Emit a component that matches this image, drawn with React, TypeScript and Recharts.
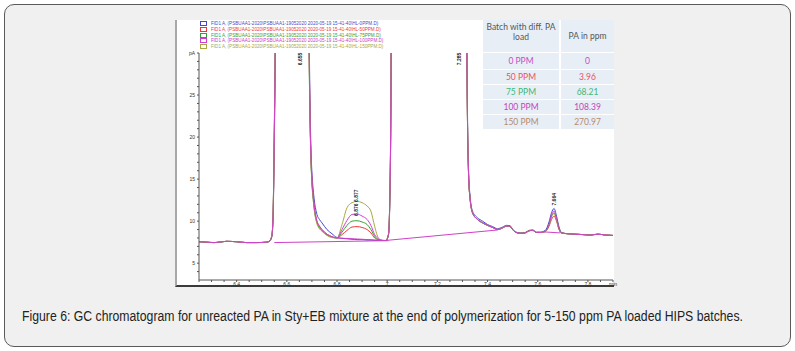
import React from "react";
import { LineChart, Line, XAxis, YAxis, ReferenceDot } from "recharts";

// retention time (min) shared by all five traces
const times = [
  6.25, 6.28, 6.31, 6.33, 6.36, 6.4, 6.44, 6.48, 6.52, 6.53,
  6.54, 6.545, 6.55, 6.555, 6.56, 6.68, 6.685, 6.69, 6.695, 6.7,
  6.705, 6.71, 6.72, 6.73, 6.74, 6.76, 6.78, 6.8, 6.82, 6.84,
  6.86, 6.88, 6.9, 6.92, 6.935, 6.95, 6.965, 6.98, 6.995, 7.005,
  7.01, 7.015, 7.02, 7.31, 7.315, 7.32, 7.325, 7.33, 7.34, 7.36,
  7.38, 7.4, 7.42, 7.44, 7.46, 7.475, 7.49, 7.5, 7.51, 7.53,
  7.55, 7.565, 7.58, 7.595, 7.61, 7.63, 7.645, 7.655, 7.665, 7.675,
  7.685, 7.695, 7.72, 7.75, 7.78, 7.81, 7.84, 7.87, 7.9,
];

// signal in pA for each batch (values above 30 run off the top)
const blueSignal = [
  7.55, 7.5, 7.45, 7.5, 7.6, 7.55, 7.45, 7.45, 7.5, 7.6,
  8.1, 10.2, 19, 34, 60, 60, 48, 30, 20, 15.8,
  13.8, 12.4, 10.8, 10.2, 9.8, 9.0, 8.5, 8.05, 7.95, 7.9,
  7.85, 7.8, 7.8, 7.75, 7.75, 7.7, 7.7, 7.7, 7.7, 8.3,
  11.5, 24, 60, 60, 42, 23, 15.5, 13.1, 11.2, 10.4,
  10.0, 9.6, 9.35, 9.1, 9.3, 9.5, 9.45, 9.05, 8.75, 8.6,
  8.65, 8.9, 8.95, 8.7, 8.7, 8.9, 9.9, 11.0, 11.5, 10.6,
  9.3, 8.65, 8.5, 8.45, 8.4, 8.35, 8.45, 8.35, 8.3,
];
const redSignal = [
  7.55, 7.5, 7.45, 7.5, 7.6, 7.55, 7.45, 7.45, 7.5, 7.6,
  8.2, 10.5, 20, 35, 60, 60, 45, 28, 19, 15,
  13, 11.6, 10.0, 9.4, 9.0, 8.45, 8.15, 8.0, 8.4, 8.9,
  9.3, 9.35, 9.25, 9.0, 8.6, 8.0, 7.8, 7.7, 7.7, 8.4,
  12, 25, 60, 60, 40, 22, 15, 12.8, 11, 10.2,
  9.8, 9.5, 9.25, 9.0, 9.2, 9.4, 9.35, 9.0, 8.7, 8.55,
  8.6, 8.85, 8.9, 8.65, 8.65, 8.75, 9.4, 10.2, 10.6, 10.0,
  9.0, 8.6, 8.5, 8.45, 8.4, 8.35, 8.45, 8.35, 8.3,
];
const greenSignal = [
  7.55, 7.5, 7.45, 7.5, 7.6, 7.55, 7.45, 7.45, 7.5, 7.6,
  8.2, 10.6, 20.5, 35, 60, 60, 44, 27, 18.5, 14.6,
  12.7, 11.3, 9.8, 9.2, 8.85, 8.35, 8.1, 8.0, 8.7, 9.5,
  10.0, 10.05, 9.9, 9.6, 9.0, 8.2, 7.8, 7.7, 7.7, 8.4,
  12, 25, 60, 60, 40, 22, 15, 12.8, 11, 10.2,
  9.8, 9.5, 9.25, 9.0, 9.2, 9.4, 9.35, 9.0, 8.7, 8.55,
  8.6, 8.85, 8.9, 8.65, 8.65, 8.8, 9.6, 10.6, 11.0, 10.2,
  9.1, 8.6, 8.5, 8.45, 8.4, 8.35, 8.45, 8.35, 8.3,
];
const oliveSignal = [
  7.55, 7.5, 7.45, 7.5, 7.6, 7.55, 7.45, 7.45, 7.5, 7.6,
  8.2, 10.6, 20.5, 35, 60, 60, 44, 27, 18.5, 14.5,
  12.6, 11.2, 9.7, 9.1, 8.8, 8.3, 8.05, 8.0, 9.6, 11.6,
  12.2, 12.35, 12.2, 11.8, 11.2, 9.4, 8.0, 7.75, 7.7, 8.4,
  12, 25, 60, 60, 40, 22, 15, 12.8, 11, 10.2,
  9.8, 9.5, 9.25, 9.0, 9.2, 9.4, 9.35, 9.0, 8.7, 8.55,
  8.6, 8.85, 8.9, 8.65, 8.65, 8.75, 9.5, 10.5, 10.9, 10.1,
  9.0, 8.6, 8.5, 8.45, 8.4, 8.35, 8.45, 8.35, 8.3,
];
const magentaSignal = [
  7.55, 7.5, 7.45, 7.5, 7.6, 7.55, 7.45, 7.45, 7.5, 7.6,
  8.2, 10.5, 20, 35, 60, 60, 45, 28, 19, 15,
  13, 11.6, 10.0, 9.4, 9.0, 8.45, 8.15, 8.0, 9.0, 10.1,
  10.8, 10.85, 10.6, 10.2, 9.5, 8.4, 7.9, 7.7, 7.7, 8.4,
  12, 25, 60, 60, 40, 22, 15, 12.8, 11, 10.2,
  9.8, 9.5, 9.25, 9.0, 9.2, 9.4, 9.35, 9.0, 8.7, 8.55,
  8.6, 8.85, 8.9, 8.65, 8.65, 8.8, 9.6, 10.7, 11.2, 10.3,
  9.1, 8.6, 8.5, 8.45, 8.4, 8.35, 8.45, 8.35, 8.3,
];

// integration baselines drawn by the software
const baselineA = [{ t: 6.55, v: 7.45 }, { t: 7.005, v: 7.68 }];
const baselineB = [{ t: 6.8, v: 8.0 }, { t: 6.98, v: 7.72 }];
const baselineC = [{ t: 7.0, v: 7.72 }, { t: 7.44, v: 8.95 }];
const baselineD = [{ t: 7.625, v: 8.72 }, { t: 7.69, v: 8.6 }];

const peakLabels = [
  { t: 6.654, v: 29.3, text: "6.655" },
  { t: 6.876, v: 12.2, text: "6.876 6.877" },
  { t: 7.285, v: 29.3, text: "7.285" },
  { t: 7.664, v: 12.6, text: "7.664" },
];

const xTicks = [
  6.25, 6.3, 6.35, 6.4, 6.45, 6.5, 6.55, 6.6, 6.65, 6.7, 6.75, 6.8, 6.85, 6.9, 6.95, 7,
  7.05, 7.1, 7.15, 7.2, 7.25, 7.3, 7.35, 7.4, 7.45, 7.5, 7.55, 7.6, 7.65, 7.7, 7.75, 7.8,
  7.85, 7.9,
];
const xLabels: Record<string, string> = {
  "6.4": "6.4", "6.6": "6.6", "6.8": "6.8", "7": "7", "7.2": "7.2",
  "7.4": "7.4", "7.6": "7.6", "7.8": "7.8", "7.9": "min",
};
const yTicks = [
  4, 5, 6, 7, 8, 9, 10, 11, 12, 13, 14, 15, 16, 17, 18, 19, 20, 21, 22, 23, 24, 25,
  26, 27, 28, 29, 30,
];

const batches = ["0 PPM", "50 PPM", "75 PPM", "100 PPM", "150 PPM"];
const paFound = ["0", "3.96", "68.21", "108.39", "270.97"];
const tableColors = ["#c24fc4", "#f0505e", "#3cb878", "#c246b8", "#b58b6b"];

const series = [
  { file: "HL-0PPM.D", color: "#4646d2", text: "#4a4ac8", values: blueSignal },
  { file: "HL-50PPM.D", color: "#f03434", text: "#ee3a3a", values: redSignal },
  { file: "HL-75PPM.D", color: "#2fa32f", text: "#33a033", values: greenSignal },
  { file: "HL-150PPM.D", color: "#a8a840", text: "#a8a850", values: oliveSignal },
  { file: "HL-100PPM.D", color: "#d23cd2", text: "#c840c8", values: magentaSignal },
];
const legendOrder = [0, 1, 2, 4, 3];

const toPoints = (values: number[]) => times.map((t, i) => ({ t, v: values[i] }));

function VerticalText(props: any) {
  const { cx, cy, text } = props;
  return (
    <text
      x={cx}
      y={cy}
      transform={`rotate(-90 ${cx} ${cy})`}
      textAnchor="middle"
      dominantBaseline="central"
      fontSize={5}
      fontWeight="bold"
      fill="#222"
      fontFamily="Liberation Sans, Arial, sans-serif"
    >
      {text}
    </text>
  );
}

function Chromatogram() {
  return (
    <LineChart width={450} height={267} margin={{ top: 33, right: 12, bottom: 0, left: 2 }}>
      <XAxis
        dataKey="t"
        type="number"
        domain={[6.25, 7.9]}
        allowDataOverflow
        ticks={xTicks}
        interval={0}
        height={7}
        tickSize={2}
        tickMargin={0}
        tickFormatter={(v: number) => xLabels[String(v)] ?? ""}
        tick={{ fontSize: 5, fill: "#333", fontFamily: "Liberation Sans, Arial, sans-serif" }}
        stroke="#555"
      />
      <YAxis
        dataKey="v"
        type="number"
        domain={[3, 30]}
        allowDataOverflow
        ticks={yTicks}
        interval={0}
        width={22}
        tickSize={2}
        tickMargin={2}
        tickFormatter={(v: number) => (v === 30 ? "pA" : v % 5 === 0 ? String(v) : "")}
        tick={{ fontSize: 5, fill: "#333", fontFamily: "Liberation Sans, Arial, sans-serif" }}
        stroke="#555"
      />
      {series.map((s) => (
        <Line
          key={s.file}
          data={toPoints(s.values)}
          dataKey="v"
          type="monotone"
          stroke={s.color}
          strokeWidth={1}
          dot={false}
          isAnimationActive={false}
        />
      ))}
      {[baselineA, baselineB, baselineC, baselineD].map((b, i) => (
        <Line
          key={"base" + i}
          data={b}
          dataKey="v"
          type="linear"
          stroke="#d040c8"
          strokeWidth={1}
          dot={false}
          isAnimationActive={false}
        />
      ))}
      {peakLabels.map((p) => (
        <ReferenceDot
          key={p.text}
          x={p.t}
          y={p.v}
          r={0}
          shape={(props: any) => <VerticalText {...props} text={p.text} />}
        />
      ))}
    </LineChart>
  );
}

export default function App() {
  return (
    <div style={{ position: "relative", width: 795, height: 351, background: "#ffffff", overflow: "hidden" }}>
      <style>{"body{margin:0}"}</style>
      <div
        style={{
          position: "absolute",
          left: 4,
          top: 4,
          width: 785,
          height: 341,
          background: "#f0f0f0",
          border: "1px solid #5a5a5a",
          borderRadius: 10,
        }}
      />
      {/* figure image area */}
      <div
        style={{
          position: "absolute",
          left: 175,
          top: 20,
          width: 437,
          height: 265,
          background: "#ffffff",
          borderLeft: "2px solid #a8a8a8",
          borderBottom: "2px solid #3a3a3a",
        }}
      />
      <div style={{ position: "absolute", left: 175, top: 20 }}>
        <Chromatogram />
      </div>
      {/* file legend */}
      {legendOrder.map((idx, row) => {
        const s = series[idx];
        return (
          <div
            key={s.file}
            style={{
              position: "absolute",
              left: 200,
              top: 21 + row * 5.8,
              height: 5,
              display: "flex",
              alignItems: "center",
              whiteSpace: "nowrap",
              fontFamily: "Liberation Sans, Arial, sans-serif",
              fontSize: 4.6,
              color: s.text,
            }}
          >
            <span
              style={{
                display: "inline-block",
                width: 5,
                height: 3,
                border: `1px solid ${s.color}`,
                marginRight: 4,
              }}
            />
            {`FID1 A, (PSBUAA1-2020\\PSBUAA1-19052020 2020-05-19 15-41-40\\${s.file})`}
          </div>
        );
      })}
      {/* PA table */}
      <div
        style={{
          position: "absolute",
          left: 483,
          top: 20,
          display: "grid",
          gridTemplateColumns: "76px 53px",
          gridTemplateRows: "32px 16px 14px 14px 14px 14px",
          columnGap: 2,
          rowGap: 1,
          fontFamily: "Lato, 'Open Sans', sans-serif",
          fontSize: 8.5,
          background: "#ffffff",
        }}
      >
        <div
          style={{
            background: "#e8eef5",
            color: "#555",
            textAlign: "center",
            lineHeight: "10px",
            paddingTop: 2,
          }}
        >
          Batch with diff. PA
          <br />
          load
        </div>
        <div
          style={{
            background: "#e8eef5",
            color: "#555",
            display: "flex",
            alignItems: "center",
            justifyContent: "center",
          }}
        >
          PA in ppm
        </div>
        {batches.map((b, i) => (
          <React.Fragment key={b}>
            <div
              style={{
                background: "#e8eef5",
                color: tableColors[i],
                display: "flex",
                alignItems: "center",
                justifyContent: "center",
              }}
            >
              {b}
            </div>
            <div
              style={{
                background: "#e8eef5",
                color: tableColors[i],
                display: "flex",
                alignItems: "center",
                justifyContent: "center",
              }}
            >
              {paFound[i]}
            </div>
          </React.Fragment>
        ))}
      </div>
      <div
        style={{
          position: "absolute",
          left: 22,
          top: 308,
          whiteSpace: "nowrap",
          fontFamily: "'Liberation Sans', Arial, sans-serif",
          fontSize: 14,
          color: "#222",
          transform: "scaleX(0.875)",
          transformOrigin: "left center",
        }}
      >
        Figure 6: GC chromatogram for unreacted PA in Sty+EB mixture at the end of polymerization for 5-150 ppm PA loaded HIPS batches.
      </div>
    </div>
  );
}
